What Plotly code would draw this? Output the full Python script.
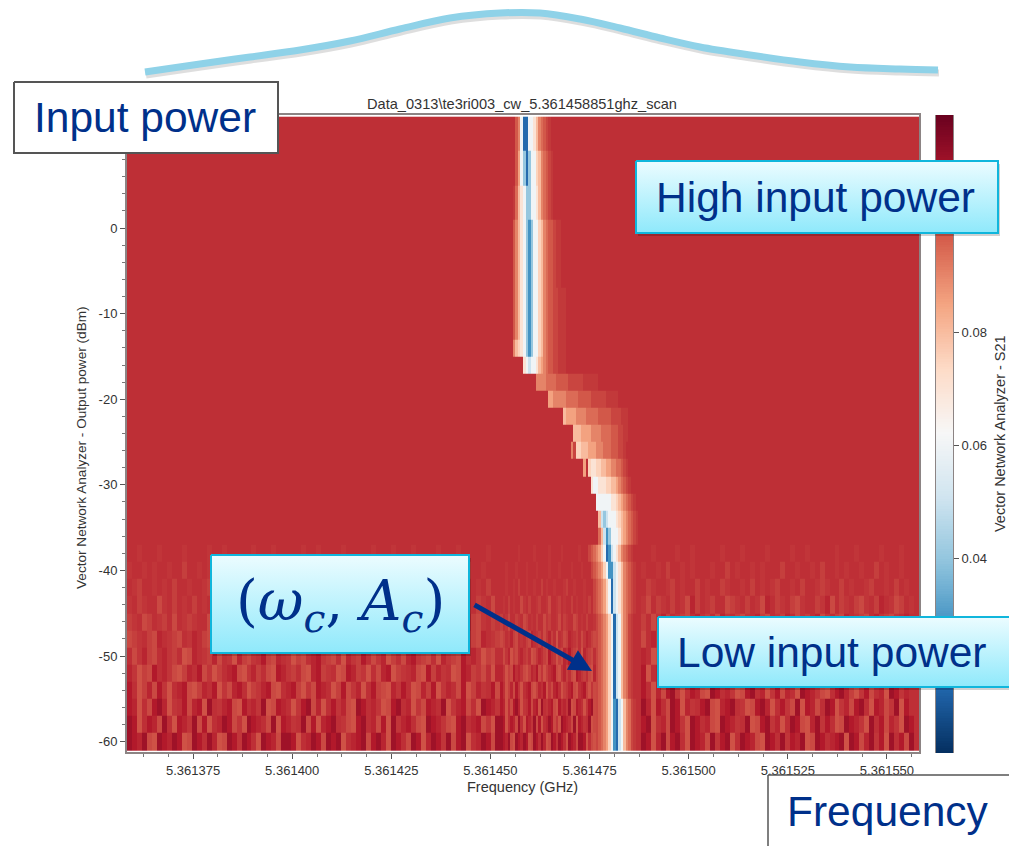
import numpy as np
import plotly.graph_objects as go

# ---- measured S21 levels, one letter per cell ----
S21_LEVELS = dict(a=.018, b=.028, c=.04, d=.05, e=.06, f=.07, g=.075, h=.08, i=.085, j=.09,
                  k=.094, l=.097, m=.1, p=.102, n=.1035)
# the noise floor only wanders a little around the background level
NOISE_LEVELS = dict(j=.098, k=.0995, l=.101, m=.1025, n=.1035, o=.105, q=.107, r=.11)

POWER_EDGES_DBM = list(range(13, -62, -2))
FREQ_START, FREQ_BAND_LO, FREQ_BAND_HI, FREQ_END = 5.36135833, 5.36145252, 5.36148788, 5.36155808
N_LEFT, N_BAND, N_RIGHT = 75, 56, 56

# dip profile of each power row, 12 dBm down to -60 dBm
BAND_DIP = [
 "nnnnnnljeaaeefhjklmp", "nnnnnnljeaaeefhjklmp",
 "nnnnnnliecaceeghjklmp", "nnnnnnliecaceeghjklmp",
 "nnnnnpkhfecceefhjklmp", "nnnnnpkhfecceefhjklmp",
 "nnnnnljhfecbceeghjkllmpp", "nnnnnljhfecbceeghjkllmpp", "nnnnnljhfecbceeghjkllmpp",
 "nnnnnljhfecbceeghjkllmpp", "nnnnnljhfecbceeghjkllmmppp", "nnnnnljhfecbceeghjkllmmppp",
 "nnnnnljhfecbceeghjkllmmppp", "nnnnnjhgfecbceeghjkllmmppp", "nnnnnnnnnfedeefhijkllmmppp",
 "nnnnnnnnnnnnnnjjjjkkkklllllmmmmmmpppppp",
 "nnnnnnnnnnnnnnnnnnniijjjjjkkkkklllllmmmmmmppppp",
 "nnnnnnnnnnnnnnnnnnnnnnnnnhiiiijjjjkkkkklllllmmmmppp",
 "nnnnnnnnnnnnnnnnnnnnnnnnnnnnnhhhiiiijjjjkkkklllmmpp",
 "nnnnnnnnnnnnnnnnnnnnnnnnnnnnjmgghhhiiijjjkkklllmmp",
 "nnnnnnnnnnnnnnnnnnnnnnnnnnnnnnnnningffgghhiijjkklmp",
 "nnnnnnnnnnnnnnnnnnnnnnnnnnnnnnnnnnnnfeefffgghhijklmp",
 "nnnnnnnnnnnnnnnnnnnnnnnnnnnnnnnnnnnnnneeeeeeffghijklmp",
 "nnnnnnnnnnnnnnnnnnnnnnnnnnnnnnnnnnnnnnnhdcdeeefghijklmp",
 "nnnnnnnnnnnnnnnnnnnnnnnnnnnnnnnnnnnnnnnkhdbceeefhijklmp",
 "mlkjigeabdefhjklmp",
 "mlkjigebbdefhjklmp",
 "mlkjigeadefhjklmp", "mlkjigeadefhjklmp",
 "mlkjigeadehjkmp", "mlkjigeadehjkmp", "mlkjigeadehjkmp", "mlkjigeadehjkmp", "mlkjigeadehjkmp",
 "mlkjigebadehjkmp", "mlkjigebadehjkmp", "mlkjigebadehjkmp", "mlkjigebadehjkmp",
]
BAND_DIP_START = [0] * 25 + [35, 36, 37, 37, 38, 38, 38, 38, 38, 38, 38, 38, 38]
BAND_NOISE = [""] * 25 + [
 "nnnnnnnmnnnnnmnnnnnmnnnnmnnnnnnmnnnnmnn",
 "nnmnnnmnnnmnnnmnnnnmnnnmnnnnmnnnmnnnnnn",
 "nnmnnmnlnnmnnmnnlnmnnmnnnmlnnmnnnmnnnnn",
 "nmnlnmnnkmnlnnmlnnmknnmlnmnnlnmnnmnlnnn",
 "lnmknnlmnklnmnlnnkmlnnmknlmnnklnmnlnnmn",
 "klnmolknmnlkonmlnkmolnjnmklonmlnkmonlkm",
 "nkmojlknomlnjkmonlkqnmjlkonqmlknjomlknm",
 "omjlkqnomkjlonqkmjlnoqkjmolnkjqomlnkjom",
 "qnjlokqmjnoqkjlonqjmkoqnjlmoqkjnoqljmkj",
 "qojnkqrojmnqkoqjrnmoqkjqnomrjkqonjmqrkj",
 "rqjnqokrnjqomrkqjnorqkmjrqonkrjqomnrjkj",
 "rqorkjrqorqjkrqnrojkrqmrqnjrqokrrqjnkjk",
]

LEFT = [""] * 25 + [
 "nnmnnnmnnnnmnnnnmnnmnnnnnmnnnmnnnnnmnnmnnnnmnnnnnmnnnmnnnmnnnnmnnnmnnnnnmn",
 "mnnmnmnnmnnlnnmnmnnnmnnmnlnnmnmnnnmnmnnlnmnnmnnmnmnnnlnmnnmnmnnmnnmnlnnmnn",
 "nmlnnmnmnlnnmnnmlnmnnmlnnmnnlmnnmnlnmnnmnmlnnmnlnnmnmnnlmnnmnlnnmlnmnnmnln",
 "mnlmnnkmnlnmnlnmnnlmnkmnlnmnnlmlnnmknlmnnlmnlnkmnnlmnlnnmlnkmnnlmnlmnnlmnk",
 "lmnklnmlnknmlmnnklmnlknmnlmkolnmlnknmlmnoklmnlknmlonkmlnmkolmnlknmlnolkmnlm",
 "klmnlkonmlknmonlkmnoklnmklonmlkjnmolkmnloknmklonmlknomlkmnolkjnmlokmnlkonml",
 "nkmolknomlnjkonmloknmjolkmnqlkonmjlknoqmlknjomlqnkmojlnkoqmlknjomlkqnomjlkn",
 "omjlkqnomkjlonqkmjlnoqkjmolnkjqomlnkjoqlmnjkqolmjnkoqjlmnokjqlomnjkqolmknjo",
 "qnjlokqmjnoqkjlonqjmkoqnjlmoqkjnoqljmkqonjlqkmojnqlkjomqnjkolqjmonkqjlomnqk",
 "qojnkqrojmnqkoqjrnmoqkjqnomrjkqonjmqrkojnqmokjrqnomjkqrnojmkqonrjmoqknjrqom",
 "rqjnqokrnjqomrkqjnorqkmjrqonkrjqomnrkqjoqrnmkjqrnokqjrmoqnkjrqomkjqrnoqkmjr",
 "rqorkjrqorqjkrqnrojkrqmrqnjrqokrrqjnorqkrqrjnoqrkqrojrqnkrqjorqmrkqrjnorqkr",
]

RIGHT = [""] * 25 + [
 "nnmnnnnmnnmnnnnnmnnnmnnnnmnnnnmnnmnnnnnmnnnmnnnnmnnnmnn",
 "mnnmnlnnmnmnnnmnnlnmnnmnmnnnlnnmnnmnlnnmnmnnmnnlnmnnmnn",
 "nlmnnmlnmnnlnmnnlmnnmnlnmnmlnnmnlnnmlmnnlnmnnmlnnmnlnmn",
 "mknlmnlnmkolnmlnnklmnlnmkonlmnlkmnnlmoknlmnlkmnlonmklnm",
 "lnkmolnmlknomlnkomnlkmnolknmlonkmlnokmnlkonmlknomlkmnon",
 "knomlkjnoqmlknomjlknqomlknjoqmlknojmlqknomjlkqonmjlkonq",
 "onjkqmlojnkqmolnjqkmojlnqkomjnlkqojmnlqkojmnqklojqnmkol",
 "qjnolkqmjoqnkjlqomjnkqolmjnqkoljmqnokjlqomnjkqlojmnqkol",
 "qnjokqrmjnqokjrqnomjkqrnojmqkonjrqomkjnqroljmqknojrqmon",
 "rojqnkrqjomnqrkjoqrnmjkqrojnqmkrjqoknrqjmokqrnjqokmrjqn",
 "qrjnokrqmjrqnokjrqomnrjkqrmojnrqkjormqnjkrqomjrnqkomjrq",
 "rqjorkqrnjrqokrmqrjnrqokjrqnrmqorjkrqnoqrjrqkormqjrnqkr",
]

X_TICKS = [5.361375, 5.3614, 5.361425, 5.36145, 5.361475, 5.3615, 5.361525, 5.36155]
Y_TICKS = [10, 0, -10, -20, -30, -40, -50, -60]
Y_TICK_TEXT = ["10", "0", "-10", "-20", "-30", "-40", "-50", "-60"]
CBAR_TICKS = [0.04, 0.06, 0.08]
S21_MIN, S21_MAX = 0.0055, 0.1184

TITLE = "Data_0313\\te3ri003_cw_5.361458851ghz_scan"
CURVE_X = [145, 200, 250, 300, 350, 400, 450, 500, 540, 580, 620, 660, 700, 750, 800, 850, 900, 938]
CURVE_Y = [72, 64, 57, 50, 41, 29, 18, 13, 13, 19, 28, 38, 47, 55, 62, 67, 69, 70]

NAVY = "#00308a"
FONT = "Liberation Sans"
W, H = 1009, 846


def noise_cells(s):
    return [NOISE_LEVELS[c] for c in s]


def band_cells(noise, start, dip):
    cells = noise_cells(noise[:start]) + [S21_LEVELS[c] for c in dip]
    return (cells + [S21_LEVELS["n"]] * N_BAND)[:N_BAND]


def field_cells(s, n):
    return noise_cells(s.ljust(n, "n")[:n])


z = [field_cells(l, N_LEFT) + band_cells(nz, st, d) + field_cells(r, N_RIGHT)
     for l, nz, st, d, r in zip(LEFT, BAND_NOISE, BAND_DIP_START, BAND_DIP, RIGHT)]
x_edges = np.concatenate([
    np.linspace(FREQ_START, FREQ_BAND_LO, N_LEFT + 1),
    np.linspace(FREQ_BAND_LO, FREQ_BAND_HI, N_BAND + 1)[1:],
    np.linspace(FREQ_BAND_HI, FREQ_END, N_RIGHT + 1)[1:],
])

fig = go.Figure()
fig.add_trace(go.Heatmap(x=x_edges, y=POWER_EDGES_DBM, z=z, colorscale="RdBu_r", zmin=S21_MIN, zmax=S21_MAX,
                         showscale=False, hoverinfo="skip", xaxis="x", yaxis="y"))
ramp = np.linspace(S21_MIN, S21_MAX, 257)
fig.add_trace(go.Heatmap(x=[0, 1], y=ramp, z=[[v] for v in ramp[:-1]], colorscale="RdBu_r",
                         zmin=S21_MIN, zmax=S21_MAX, showscale=False, hoverinfo="skip", xaxis="x2", yaxis="y2"))


def overlay(x, y, **kw):
    fig.add_trace(go.Scatter(x=x, y=y, xaxis="x3", yaxis="y3", showlegend=False, hoverinfo="skip", **kw))


# curve and its shadow
overlay([v + 1 for v in CURVE_X], [v + 3 for v in CURVE_Y], mode="lines",
        line=dict(color="rgba(0,0,0,0.13)", width=7, shape="spline"))
overlay(CURVE_X, CURVE_Y, mode="lines", line=dict(color="#8fd2e8", width=7, shape="spline"))


def box(x0, y0, x1, y1, line, gradient=True, lw=2):
    if gradient:
        overlay([x0 + 2, x1 + 2, x1 + 2, x0 + 2, x0 + 2], [y0 + 3, y0 + 3, y1 + 3, y1 + 3, y0 + 3],
                mode="lines", fill="toself", fillcolor="rgba(0,0,0,0.18)", line=dict(width=0))
    kw = dict(fillgradient=dict(type="vertical", colorscale=[[0, "#8fe9fb"], [1, "#ecfcff"]])) if gradient \
        else dict(fillcolor="white")
    overlay([x0, x1, x1, x0, x0], [y0, y0, y1, y1, y0], mode="lines", fill="toself",
            line=dict(color=line, width=lw), **kw)


box(14, 82, 278, 153, "#555555", gradient=False, lw=2)
box(636, 161, 998, 233, "#10b6dc")
box(211, 555, 469, 653, "#10b6dc")
box(658, 617, 1014, 687, "#10b6dc")
box(768, 775, 1014, 850, "#555555", gradient=False, lw=1.5)

ann = []
for text, x, y in [("Input power", 145, 117), ("High input power", 815, 197),
                   ("Low input power", 832, 652), ("Frequency", 888, 811)]:
    ann.append(dict(text=text, x=x, y=y, xref="x3", yref="y3", showarrow=False,
                    font=dict(family=FONT, size=42.5, color=NAVY)))
ann.append(dict(text="(<i>ω<sub>c</sub></i>, <i>A<sub>c</sub></i>)", x=340, y=604, xref="x3", yref="y3",
                showarrow=False, font=dict(family="DejaVu Serif", size=56, color=NAVY)))
ann.append(dict(text="", x=592, y=671, ax=473, ay=604, xref="x3", yref="y3", axref="x3", ayref="y3",
                showarrow=True, arrowhead=2, arrowsize=0.9, arrowwidth=5, arrowcolor=NAVY))
ann.append(dict(text=TITLE, x=522, y=104, xref="x3", yref="y3", showarrow=False,
                font=dict(family=FONT, size=14.6, color="#333333")))
ann.append(dict(text="Frequency (GHz)", x=522, y=787, xref="x3", yref="y3", showarrow=False,
                font=dict(family=FONT, size=14.5, color="#333333")))
ann.append(dict(text="Vector Network Analyzer - Output power (dBm)", x=81, y=448, xref="x3", yref="y3",
                showarrow=False, textangle=-90, font=dict(family=FONT, size=13.6, color="#333333")))
ann.append(dict(text="Vector Network Analyzer - S21", x=1000, y=434, xref="x3", yref="y3",
                showarrow=False, textangle=-90, font=dict(family=FONT, size=14.5, color="#333333")))

tickfont = dict(family=FONT, size=13, color="#333333")
AX = "#8c8484"
fig.update_layout(
    width=W, height=H, margin=dict(l=0, r=0, t=0, b=0), paper_bgcolor="white", plot_bgcolor="rgba(0,0,0,0)",
    showlegend=False, annotations=ann,
    xaxis=dict(domain=[127 / W, 919 / W], range=[FREQ_START, FREQ_END], tickvals=X_TICKS,
               tickformat=".6f", ticks="outside", ticklen=5, tickcolor="#555555", tickfont=tickfont,
               minor=dict(dtick=6.25e-6, tick0=X_TICKS[0], ticks="outside", ticklen=3, tickcolor="#777777"),
               showgrid=False, zeroline=False, showline=True, mirror=True, linecolor=AX, linewidth=2),
    yaxis=dict(domain=[1 - 752 / H, 1 - 115 / H], range=[-61.2, 13.2], tickvals=Y_TICKS, ticktext=Y_TICK_TEXT,
               ticks="outside", ticklen=5, tickcolor="#555555", tickfont=tickfont,
               minor=dict(dtick=2, tick0=0, ticks="outside", ticklen=3, tickcolor="#777777"),
               showgrid=False, zeroline=False, showline=True, mirror=True, linecolor=AX, linewidth=2),
    xaxis2=dict(domain=[936 / W, 953 / W], range=[0, 1], visible=False, anchor="y2"),
    yaxis2=dict(domain=[1 - 753 / H, 1 - 115 / H], range=[S21_MIN, S21_MAX], side="right", anchor="x2",
                tickvals=CBAR_TICKS, tickformat=".2f", ticks="outside", ticklen=5, tickcolor="#555555",
                tickfont=tickfont, showgrid=False, zeroline=False, showline=True, mirror=True,
                linecolor=AX, linewidth=1),
    xaxis3=dict(domain=[0, 1], range=[0, W], visible=False, anchor="y3"),
    yaxis3=dict(domain=[0, 1], range=[H, 0], visible=False, anchor="x3"),
)
fig.write_html("out.html", config=dict(displayModeBar=False), post_script="document.body.style.margin='0';")
